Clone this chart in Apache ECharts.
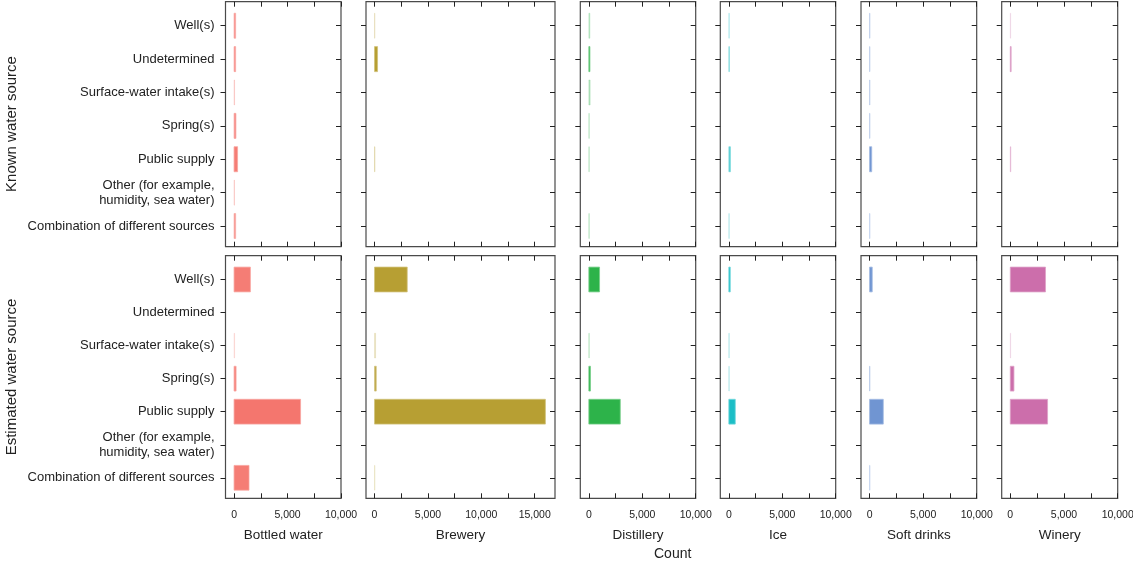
<!DOCTYPE html>
<html>
<head>
<meta charset="utf-8">
<script src="https://cdn.jsdelivr.net/npm/echarts@6/dist/echarts.min.js"></script>
<style>html,body{margin:0;padding:0;background:#fff}#c{width:1133px;height:564px}</style>
</head>
<body>
<div id="c"></div>
<script>
// ---------------- DATA ----------------
const categories = ['Well(s)', 'Undetermined', 'Surface-water intake(s)', 'Spring(s)', 'Public supply',
  'Other (for example,\nhumidity, sea water)', 'Combination of different sources'];
const facilities = ['Bottled water', 'Brewery', 'Distillery', 'Ice', 'Soft drinks', 'Winery'];
const groups = ['Known water source', 'Estimated water source'];

// Counts, known water source (rows follow `categories`)
const knownBottled    = [150, 150, 50, 180, 330, 30, 150];
const knownBrewery    = [30, 280, 0, 0, 40, 0, 0];
const knownDistillery = [100, 100, 120, 40, 40, 0, 40];
const knownIce        = [40, 50, 0, 0, 150, 0, 30];
const knownSoft       = [40, 40, 40, 40, 200, 0, 40];
const knownWinery     = [30, 80, 0, 0, 50, 0, 0];

// Counts, estimated water source
const estBottled    = [1530, 0, 50, 190, 6220, 0, 1400];
const estBrewery    = [3060, 0, 100, 160, 16000, 0, 40];
const estDistillery = [1000, 0, 30, 150, 2940, 0, 0];
const estIce        = [130, 0, 30, 30, 600, 0, 0];
const estSoft       = [250, 0, 0, 40, 1280, 0, 40];
const estWinery     = [3280, 0, 30, 340, 3470, 0, 0];

// Relative weight of each bar (shown as bar opacity in the source figure)
const knownWeight = [
  [0.8, 0.8, 0.4, 0.8, 0.95, 0.4, 0.75],
  [0.3, 1, 0, 0, 0.4, 0, 0],
  [0.3, 1, 0.35, 0.3, 0.3, 0, 0.3],
  [0.35, 0.6, 0, 0, 0.7, 0, 0.3],
  [0.45, 0.45, 0.45, 0.45, 1, 0, 0.4],
  [0.25, 0.9, 0, 0, 0.5, 0, 0]
];
const estWeight = [
  [0.95, 0, 0.25, 0.9, 1, 0, 0.95],
  [1, 0, 0.3, 0.9, 1, 0, 0.25],
  [1, 0, 0.3, 1, 1, 0, 0],
  [1, 0, 0.3, 0.3, 1, 0, 0],
  [1, 0, 0, 0.5, 1, 0, 0.4],
  [1, 0, 0.25, 1, 1, 0, 0]
];

// Axis ticks
const xTicksStd = [0, 2500, 5000, 7500, 10000];
const xLabelsStd = [0, 5000, 10000];
const xTicksBrewery = [0, 2500, 5000, 7500, 10000, 12500, 15000];
const xLabelsBrewery = [0, 5000, 10000, 15000];
const yTickIdx = [0, 1, 2, 3, 4, 5, 6];

// ---------------- LAYOUT / STYLE ----------------
const known = [knownBottled, knownBrewery, knownDistillery, knownIce, knownSoft, knownWinery];
const est = [estBottled, estBrewery, estDistillery, estIce, estSoft, estWinery];
const colors = ['#f4766e', '#b79f33', '#2db34a', '#1cbec6', '#7095d2', '#cc6eab'];
const panelLeft = [225.5, 366, 580.3, 720.3, 861, 1001.7];
const panelWidth = [115.5, 189, 115.4, 115.4, 115.7, 116];
const xMin = -800;
const xMax = [10000, 16900, 10000, 10000, 10000, 10000];
const rowTop = [1.7, 255.7];
const rowHeight = [245, 242.6];
const FONT = '"Liberation Sans Narrow", "Liberation Sans", Arial, sans-serif';
const BORDER = '#4a4a4a';

function lighten(hex, t) {
  const n = parseInt(hex.slice(1), 16);
  const r = (n >> 16) & 255, g = (n >> 8) & 255, b = n & 255;
  const m = c => Math.round(c + (255 - c) * t);
  return 'rgb(' + m(r) + ',' + m(g) + ',' + m(b) + ')';
}

const tickStyle = { color: '#222', width: 1 };
const grids = [], xAxes = [], yAxes = [], series = [];
let gi = 0;
for (let r = 0; r < 2; r++) {
  for (let f = 0; f < 6; f++) {
    grids.push({
      left: panelLeft[f], top: rowTop[r], width: panelWidth[f], height: rowHeight[r],
      show: true, borderColor: BORDER, borderWidth: 1.2, backgroundColor: '#fff',
      containLabel: false, outerBoundsMode: 'none'
    });
    const ticks = f === 1 ? xTicksBrewery : xTicksStd;
    const labs = f === 1 ? xLabelsBrewery : xLabelsStd;
    // bottom x axis
    xAxes.push({
      gridIndex: gi, type: 'value', position: 'bottom', min: xMin, max: xMax[f],
      axisLine: { show: false, onZero: false }, splitLine: { show: false },
      axisTick: { show: true, inside: true, length: 5, customValues: ticks, lineStyle: tickStyle },
      axisLabel: {
        show: r === 1, customValues: labs, margin: 11, fontFamily: FONT, fontSize: 10.5, color: '#222',
        formatter: v => v.toLocaleString('en-US'), hideOverlap: false
      },
      name: r === 1 ? facilities[f] : '', nameLocation: 'middle', nameGap: 30,
      nameTextStyle: { fontFamily: FONT, fontSize: 13.5, color: '#222' }
    });
    // top x axis (ticks only)
    xAxes.push({
      gridIndex: gi, type: 'value', position: 'top', min: xMin, max: xMax[f],
      axisLine: { show: false, onZero: false }, splitLine: { show: false }, axisLabel: { show: false },
      axisTick: { show: true, inside: true, length: 5, customValues: ticks, lineStyle: tickStyle }
    });
    // left y axis
    yAxes.push({
      gridIndex: gi, type: 'value', position: 'left', inverse: true, min: -0.72, max: 6.62,
      axisLine: { show: false, onZero: false }, splitLine: { show: false },
      axisTick: { show: true, inside: false, length: 5, customValues: yTickIdx, lineStyle: tickStyle },
      axisLabel: {
        show: f === 0, customValues: yTickIdx, margin: 11, fontFamily: FONT, fontSize: 13, color: '#222',
        lineHeight: 15, align: 'right', formatter: v => categories[v], hideOverlap: false
      }
    });
    // right y axis (ticks only)
    yAxes.push({
      gridIndex: gi, type: 'value', position: 'right', inverse: true, min: -0.72, max: 6.62,
      axisLine: { show: false, onZero: false }, splitLine: { show: false }, axisLabel: { show: false },
      axisTick: { show: true, inside: true, length: 5, customValues: yTickIdx, lineStyle: tickStyle }
    });
    const vals = r === 0 ? known[f] : est[f];
    const wts = r === 0 ? knownWeight[f] : estWeight[f];
    const data = [];
    vals.forEach((v, i) => { if (v > 0) data.push([v, i, wts[i]]); });
    const col = colors[f];
    series.push({
      type: 'custom', xAxisIndex: gi * 2, yAxisIndex: gi * 2, data: data,
      encode: { x: 0, y: 1 },
      renderItem: function (params, api) {
        const v = api.value(0), idx = api.value(1), w = api.value(2);
        const p0 = api.coord([0, idx]);
        const p1 = api.coord([v, idx]);
        const h = api.size([0, 0.75])[1];
        return {
          type: 'rect',
          shape: { x: p0[0], y: p0[1] - h / 2, width: Math.max(p1[0] - p0[0], 0.4), height: h },
          style: { fill: col, stroke: lighten(col, 0.35), lineWidth: 0.8, opacity: w }
        };
      }
    });
    gi++;
  }
}

const graphic = [
  { type: 'text', left: 654, top: 547, style: { text: 'Count', font: '14px ' + FONT, fill: '#222' } },
  { type: 'text', x: 12, y: 124, rotation: Math.PI / 2, style: { text: groups[0], font: '15px ' + FONT, fill: '#222', align: 'center', verticalAlign: 'middle' } },
  { type: 'text', x: 12, y: 377, rotation: Math.PI / 2, style: { text: groups[1], font: '15px ' + FONT, fill: '#222', align: 'center', verticalAlign: 'middle' } }
];

const chart = echarts.init(document.getElementById('c'), null, { renderer: 'canvas' });
chart.setOption({
  animation: false,
  backgroundColor: '#fff',
  grid: grids, xAxis: xAxes, yAxis: yAxes, series: series, graphic: graphic
});
</script>
</body>
</html>
